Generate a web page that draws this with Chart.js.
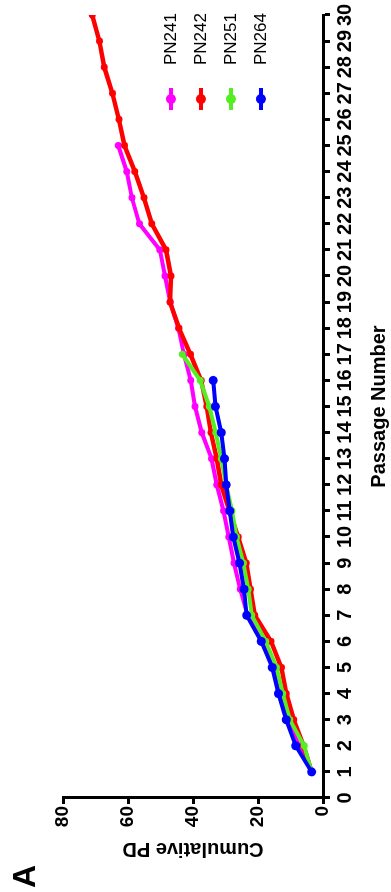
<!DOCTYPE html>
<html>
<head>
<meta charset="utf-8">
<script src="https://cdn.jsdelivr.net/npm/chart.js@4/dist/chart.umd.min.js"></script>
<style>
  html, body { margin: 0; padding: 0; background: #fff; overflow: hidden; }
  body { width: 391px; height: 892px; position: relative; }
  /* the figure is drawn landscape, then turned a quarter turn to the left */
  #frame {
    position: absolute; left: 0; top: 0; width: 892px; height: 391px;
    transform-origin: 0 0; transform: translate(0, 892px) rotate(-90deg);
    font-family: 'Liberation Sans', Arial, sans-serif; color: #000;
  }
  #panel { position: absolute; left: 4px; top: 8px; font-size: 32px; font-weight: bold; line-height: 32px; }
  #legend { position: absolute; left: 782px; top: 0; }
  .item { position: absolute; left: 0; width: 110px; height: 30px; }
  .mark { position: absolute; left: 0; top: 13px; width: 22px; height: 4px; }
  .dot { position: absolute; left: 6px; top: -3px; width: 10px; height: 10px; border-radius: 50%; }
  .name { position: absolute; left: 45px; top: 0; line-height: 30px; font-size: 17px; }
</style>
</head>
<body>
<div id="frame">
  <canvas id="pdChart" width="892" height="391"></canvas>
  <div id="panel">A</div>
  <div id="legend"></div>
</div>
<script>
// 継代数と累積PD
const passages = [1, 2, 3, 4, 5, 6, 7, 8, 9, 10, 11, 12, 13, 14, 15, 16, 17, 18, 19, 20, 21, 22, 23, 24, 25, 26, 27, 28, 29, 30];
const pn241 = [3.5, 7.5, 10.5, 13.2, 15.3, 18.7, 23.2, 25.5, 27.4, 29.0, 30.6, 32.7, 34.3, 37.3, 39.4, 40.7, 42.8, 44.5, 47.0, 48.6, 50.2, 56.5, 58.8, 60.4, 63.0];
const pn242 = [3.5, 6.0, 9.0, 11.3, 12.8, 16.0, 21.0, 22.3, 23.6, 26.1, 28.8, 31.3, 32.7, 34.5, 35.8, 37.5, 40.8, 44.3, 47.1, 46.8, 48.3, 52.7, 55.1, 57.9, 61.1, 62.8, 64.8, 67.3, 68.8, 71.0];
const pn251 = [3.5, 5.8, 10.2, 12.4, 14.3, 17.6, 21.9, 23.0, 24.5, 26.6, 28.0, 29.8, 31.3, 33.0, 35.0, 37.8, 43.3];
const pn264 = [3.5, 8.4, 11.3, 13.7, 15.6, 19.0, 23.5, 24.3, 25.7, 27.6, 28.7, 29.8, 30.3, 31.3, 33.1, 33.8];
const seriesNames = ['PN241', 'PN242', 'PN251', 'PN264'];
const seriesColors = ['#ff00ff', '#ff0000', '#55ee22', '#0000ff'];
const pdTicks = [0, 20, 40, 60, 80];

function toPoints(values) {
  return values.map(function (v, i) { return { x: passages[i], y: v }; });
}

const allSeries = [pn241, pn242, pn251, pn264];
const datasets = allSeries.map(function (values, i) {
  return {
    label: seriesNames[i],
    data: toPoints(values),
    borderColor: seriesColors[i],
    backgroundColor: seriesColors[i],
    borderWidth: i === 1 ? 4.5 : 4,
    pointRadius: i === 3 ? 4.5 : 3.5,
    pointBorderWidth: 0,
    order: 4 - i // 青を一番上に
  };
});

const axisFont = { family: "'Liberation Sans', Arial, sans-serif", weight: 'bold' };

const chart = new Chart(document.getElementById('pdChart'), {
  type: 'line',
  data: { datasets: datasets },
  options: {
    responsive: false,
    animation: false,
    layout: { padding: { top: 63, right: 15, bottom: 0, left: 0 } },
    plugins: { legend: { display: false }, tooltip: { enabled: false } },
    scales: {
      x: {
        type: 'linear', min: 0, max: 30,
        afterFit: function (scale) { scale.height = 68; },
        border: { display: true, color: '#000', width: 3 },
        grid: { drawOnChartArea: false, drawTicks: true, tickLength: 7, tickWidth: 3, tickColor: '#000' },
        ticks: {
          stepSize: 1, autoSkip: false, maxRotation: 0, padding: 3, color: '#000',
          font: { size: 20, weight: 'bold', family: "'Liberation Sans Narrow', 'Liberation Sans', Arial, sans-serif" }
        },
        title: {
          display: true, text: 'Passage Number', color: '#000', padding: 0,
          font: Object.assign({ size: 20 }, axisFont)
        }
      },
      y: {
        type: 'linear', min: pdTicks[0], max: pdTicks[pdTicks.length - 1],
        afterFit: function (scale) { scale.width = 94; },
        afterBuildTicks: function (scale) { scale.ticks = pdTicks.map(function (v) { return { value: v }; }); },
        border: { display: true, color: '#000', width: 3 },
        grid: { drawOnChartArea: false, drawTicks: true, tickLength: 6, tickWidth: 3, tickColor: '#000' },
        ticks: { padding: 2, color: '#000', font: Object.assign({ size: 19 }, axisFont) },
        title: {
          display: true, text: 'Cumulative PD', color: '#000', padding: { top: 31 },
          font: Object.assign({ size: 20 }, axisFont)
        }
      }
    }
  }
});

// 凡例はHTMLで作る
const legendBox = document.getElementById('legend');
chart.data.datasets.forEach(function (ds, i) {
  const item = document.createElement('div');
  item.className = 'item';
  item.style.top = (156 + i * 30) + 'px';
  item.innerHTML = '<span class="mark" style="background:' + ds.borderColor + '"><span class="dot" style="background:' + ds.borderColor + '"></span></span><span class="name">' + ds.label + '</span>';
  legendBox.appendChild(item);
});
</script>
</body>
</html>
